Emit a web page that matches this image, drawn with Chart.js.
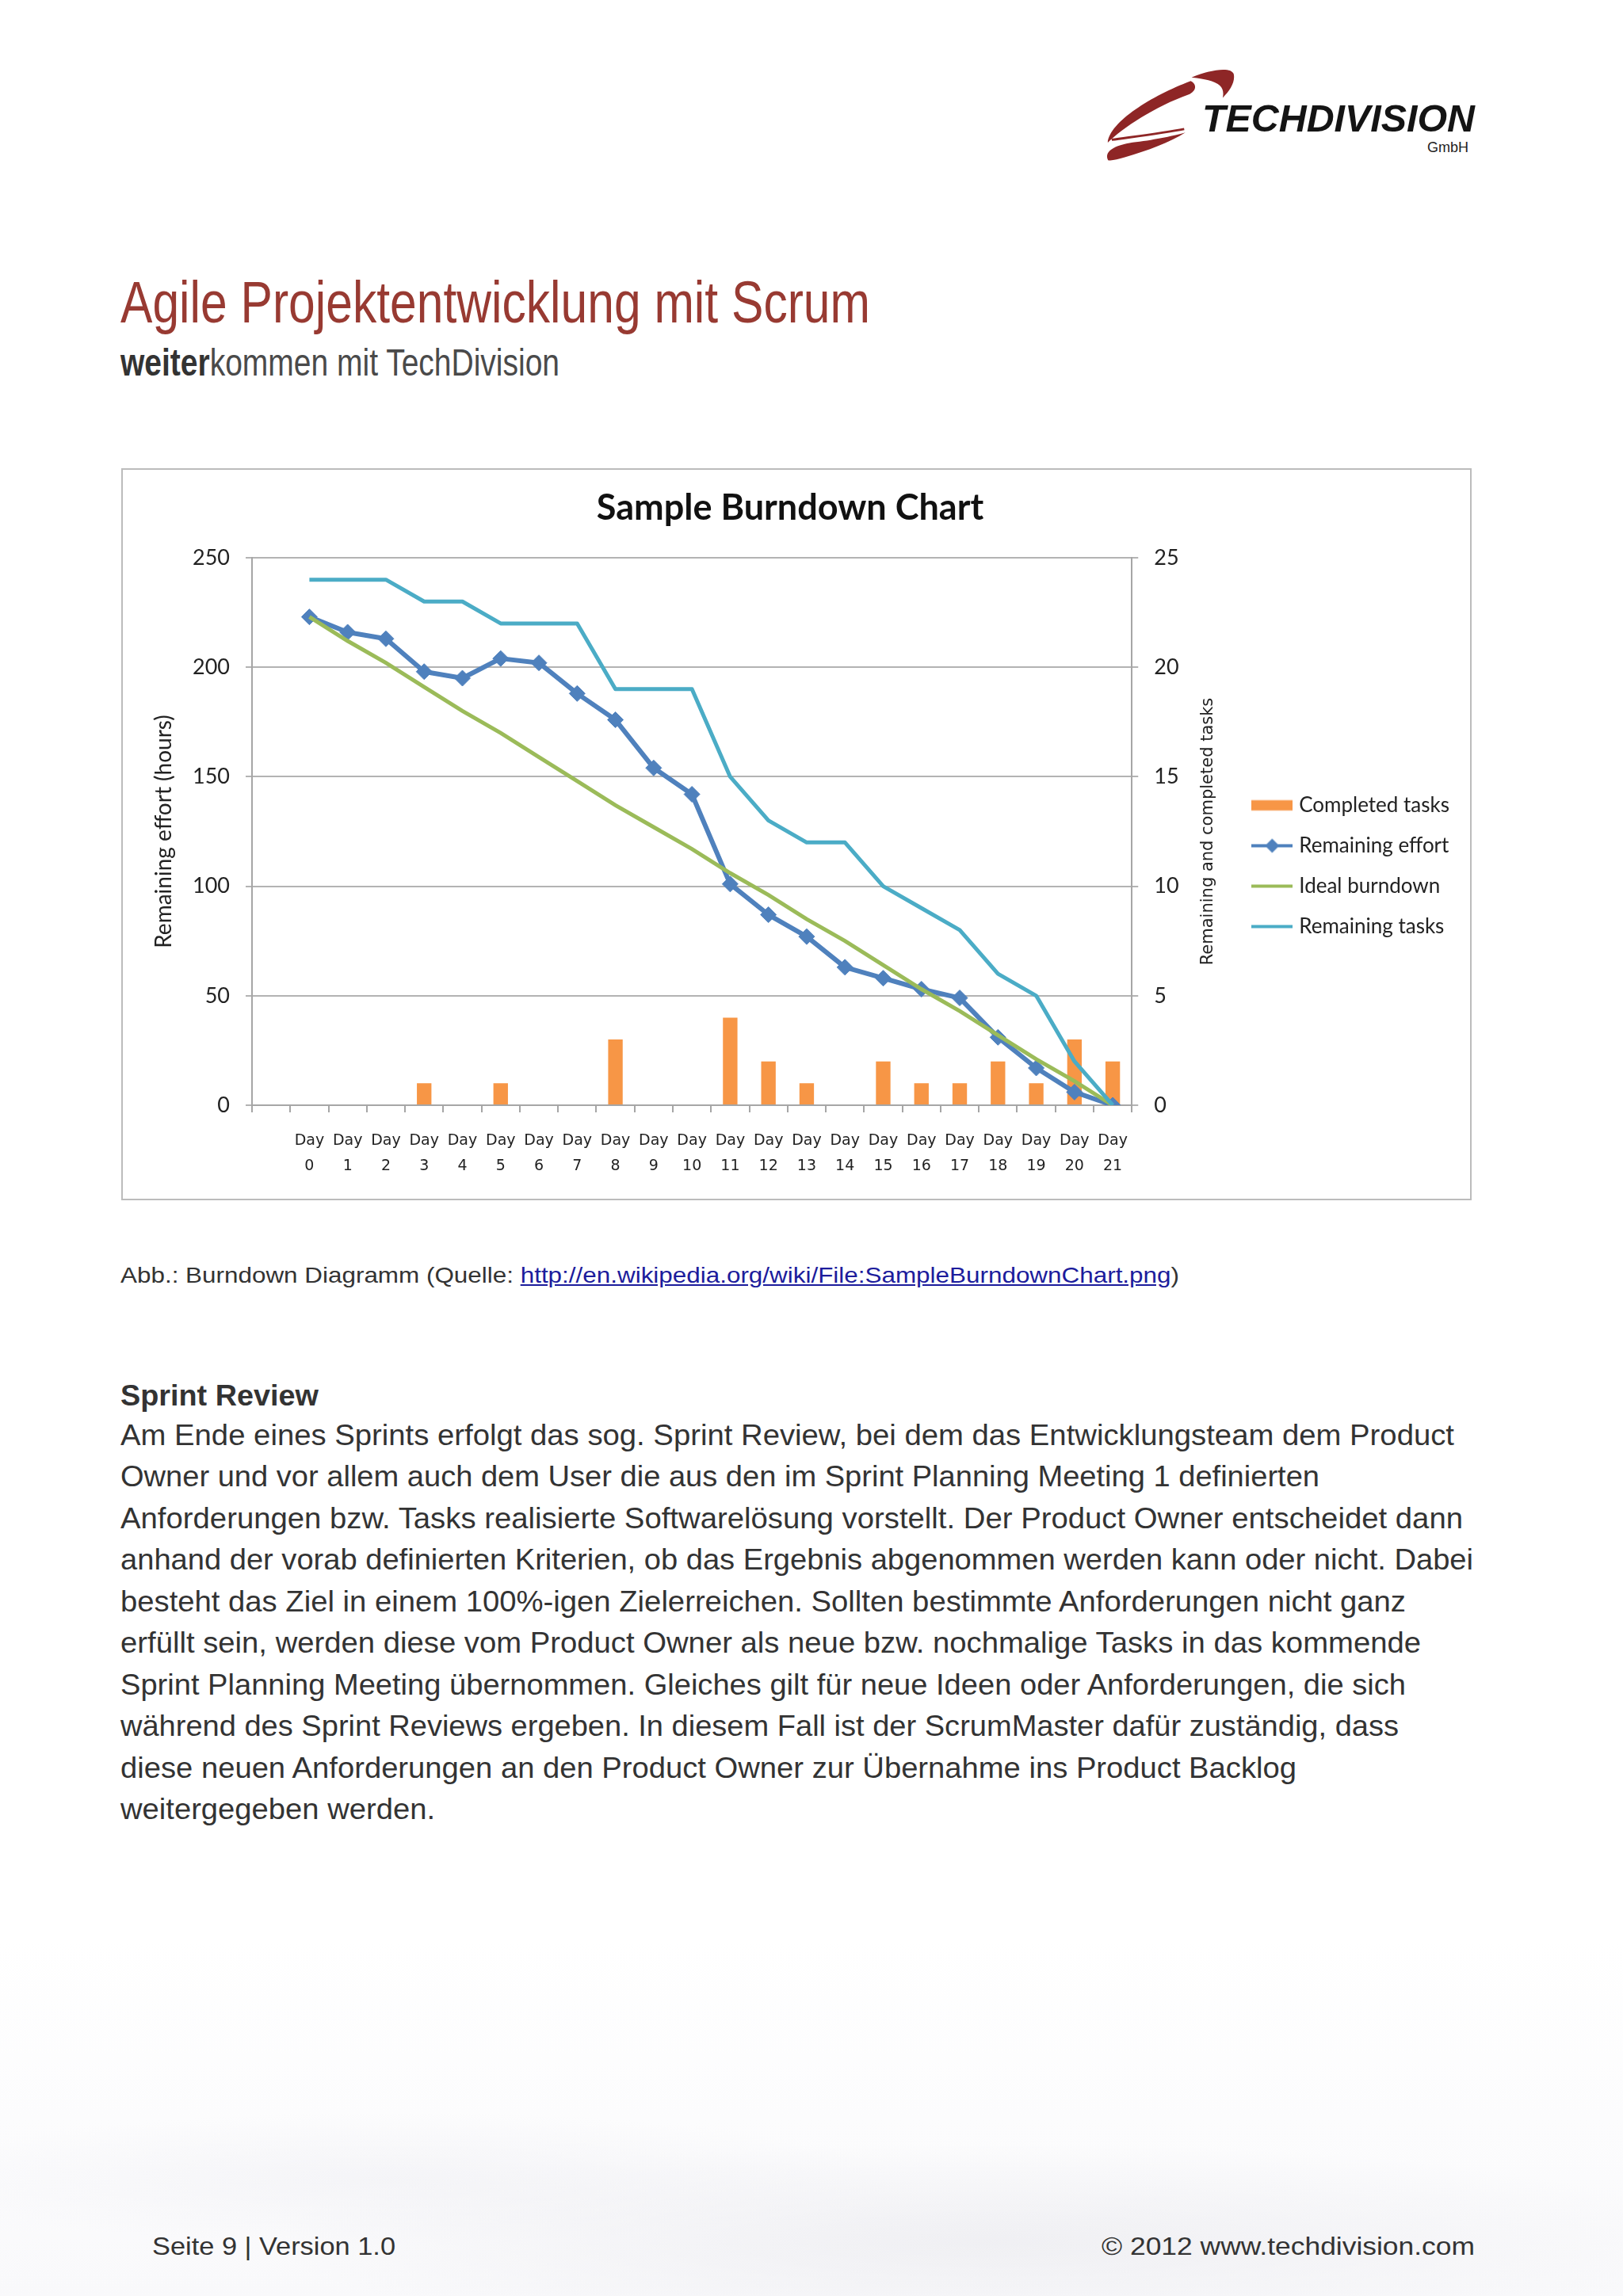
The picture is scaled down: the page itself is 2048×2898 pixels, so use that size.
<!DOCTYPE html>
<html>
<head>
<meta charset="utf-8">
<script src="https://cdn.jsdelivr.net/npm/chart.js@4.4.1/dist/chart.umd.min.js"></script>
<style>
html,body{margin:0;padding:0;}
body{width:2048px;height:2898px;position:relative;overflow:hidden;background:#fff;font-family:"Liberation Sans",Arial,sans-serif;}
.abs{position:absolute;white-space:nowrap;line-height:1;transform-origin:0 0;}
.narrow{font-family:"Liberation Sans Narrow","Liberation Sans",sans-serif;}
#deco{position:absolute;left:0;top:2450px;width:2048px;height:448px;
 background:
  radial-gradient(ellipse 1300px 180px at 1250px 380px, rgba(236,236,240,0.75), rgba(255,255,255,0) 70%),
  radial-gradient(ellipse 900px 120px at 500px 300px, rgba(240,240,244,0.6), rgba(255,255,255,0) 70%),
  linear-gradient(#fff, #f9f9fb);}
#chartbox{position:absolute;left:153px;top:591px;width:1704px;height:924px;box-sizing:border-box;border:2px solid #bcbcbc;background:#fff;}
#chart{position:absolute;left:155px;top:593px;}
a{color:#1c1c9c;text-decoration:underline;}
</style>
</head>
<body>
<div id="deco"></div>

<!-- Logo -->
<svg style="position:absolute;left:1340px;top:60px" width="560" height="150" viewBox="0 0 1568 420">
  <path d="M458,106 C520,78 600,66 607,94 C613,122 594,152 568,178 C576,140 560,116 458,106 Z" fill="#8e2626"/>
  <path d="M455,118 C318,170 168,262 162,336 C214,284 330,208 448,166 C478,152 476,128 455,118 Z" fill="#8e2626"/>
  <path d="M163,398 C146,362 198,342 262,334 C332,325 402,310 436,300 C384,334 302,364 222,388 C196,396 174,401 163,398 Z" fill="#8e2626"/>
  <path d="M176,326 C262,314 360,302 432,288" stroke="#8e2626" stroke-width="8" fill="none"/>
</svg>
<div class="abs fit" data-w="344" style="left:1517px;top:126px;font-size:48px;font-weight:bold;font-style:italic;color:#141414;">TECHDIVISION</div>
<div class="abs" style="left:1801px;top:177px;font-size:18px;color:#222;">GmbH</div>

<!-- Heading -->
<div class="abs narrow fit" data-w="946" style="left:152px;top:345px;font-size:74px;color:#983a32;">Agile Projektentwicklung mit Scrum</div>
<div class="abs narrow fit" data-w="554" style="left:152px;top:434px;font-size:48px;color:#4a4a4a;"><b style="color:#333">weiter</b>kommen mit TechDivision</div>

<!-- Chart -->
<div id="chartbox"></div>
<canvas id="chart" width="1700" height="920"></canvas>

<!-- Caption -->
<div class="abs fit" data-w="1336" style="left:152px;top:1596px;font-size:28px;color:#333;">Abb.: Burndown Diagramm (Quelle: <a>http://en.wikipedia.org/wiki/File:SampleBurndownChart.png</a>)</div>

<!-- Section -->
<div class="abs fit" data-w="250" style="left:152px;top:1744px;font-size:36px;font-weight:bold;color:#333;">Sprint Review</div>
<div id="para"></div>

<!-- Footer -->
<div class="abs narrow fit" data-w="307" style="left:192px;top:2819px;font-size:32px;color:#333;">Seite 9 | Version 1.0</div>
<div class="abs narrow fit" data-w="471" style="left:1390px;top:2819px;font-size:32px;color:#333;">© 2012 www.techdivision.com</div>

<script>
// ---------- DATA ----------
const dayLabels = ['Day 0','Day 1','Day 2','Day 3','Day 4','Day 5','Day 6','Day 7','Day 8','Day 9','Day 10',
  'Day 11','Day 12','Day 13','Day 14','Day 15','Day 16','Day 17','Day 18','Day 19','Day 20','Day 21'];
const completedTasks = [0,0,0,1,0,1,0,0,3,0,0,4,2,1,0,2,1,1,2,1,3,2];
const remainingEffort = [223,216,213,198,195,204,202,188,176,154,142,101,87,77,63,58,53,49,31,17,6,0];
const idealBurndown = [223,212,202,191,180,170,159,148,137,127,117,106,96,85,75,64,53,43,32,21,11,0];
const remainingTasks = [24,24,24,23,23,22,22,22,19,19,19,15,13,12,12,10,9,8,6,5,2,0];
const effortTicks = [0,50,100,150,200,250];
const taskTicks = [0,5,10,15,20,25];

// ---------- TEXT ----------
const paraLines = [
 'Am Ende eines Sprints erfolgt das sog. Sprint Review, bei dem das Entwicklungsteam dem Product',
 'Owner und vor allem auch dem User die aus den im Sprint Planning Meeting 1 definierten',
 'Anforderungen bzw. Tasks realisierte Softwarelösung vorstellt. Der Product Owner entscheidet dann',
 'anhand der vorab definierten Kriterien, ob das Ergebnis abgenommen werden kann oder nicht. Dabei',
 'besteht das Ziel in einem 100%-igen Zielerreichen. Sollten bestimmte Anforderungen nicht ganz',
 'erfüllt sein, werden diese vom Product Owner als neue bzw. nochmalige Tasks in das kommende',
 'Sprint Planning Meeting übernommen. Gleiches gilt für neue Ideen oder Anforderungen, die sich',
 'während des Sprint Reviews ergeben. In diesem Fall ist der ScrumMaster dafür zuständig, dass',
 'diese neuen Anforderungen an den Product Owner zur Übernahme ins Product Backlog',
 'weitergegeben werden.'
];
const paraRight = [1835,1665,1846,1859,1774,1793,1774,1765,1636,549];

const para = document.getElementById('para');
paraLines.forEach((t, i) => {
  const d = document.createElement('div');
  d.className = 'abs fit';
  d.dataset.w = paraRight[i] - 152;
  d.style.cssText = 'left:152px;font-size:36px;color:#333;top:' + (1824 + i * 52.5 - 30.5) + 'px';
  d.textContent = t;
  para.appendChild(d);
});
document.querySelectorAll('.fit').forEach(el => {
  const w = el.getBoundingClientRect().width;
  const target = +el.dataset.w;
  if (w > 0) el.style.transform = 'scaleX(' + (target / w) + ')';
});

// ---------- CHART ----------
const pad = arr => [null].concat(arr);

const COL_BAR = '#f79646', COL_EFFORT = '#4f81bd', COL_IDEAL = '#9bbb59', COL_TASKS = '#4bacc6';
function makeIcon(kind, color) {
  const c = document.createElement('canvas');
  c.width = 52; c.height = 20;
  const g = c.getContext('2d');
  g.fillStyle = color;
  if (kind === 'bar') {
    g.fillRect(0, 3.5, 52, 13);
  } else {
    g.fillRect(0, 8, 52, 4);
    if (kind === 'diamond') {
      g.beginPath();
      g.moveTo(26, 1); g.lineTo(35, 10); g.lineTo(26, 19); g.lineTo(17, 10); g.closePath();
      g.fill();
    }
  }
  return c;
}
const legendIcons = [makeIcon('bar', COL_BAR), makeIcon('diamond', COL_EFFORT), makeIcon('line', COL_IDEAL), makeIcon('line', COL_TASKS)];

const rightTitle = {
  id: 'rightTitle',
  afterDraw(chart) {
    const s = chart.scales.y1, a = chart.chartArea, ctx = chart.ctx;
    ctx.save();
    ctx.translate(s.left + 96, (a.top + a.bottom) / 2);
    ctx.rotate(-Math.PI / 2);
    ctx.font = '21px "DejaVu Sans"';
    ctx.fillStyle = '#222';
    ctx.textAlign = 'center';
    ctx.textBaseline = 'middle';
    ctx.fillText('Remaining and completed tasks', 0, 0);
    ctx.restore();
  }
};

const GRID = '#b3b3b3', AXIS = '#a6a6a6';

new Chart(document.getElementById('chart'), {
  type: 'bar',
  data: {
    labels: [''].concat(dayLabels),
    datasets: [
      { type: 'bar', label: 'Completed tasks', data: pad(completedTasks), yAxisID: 'y1',
        backgroundColor: COL_BAR, barPercentage: 0.38, categoryPercentage: 1, order: 4 },
      { type: 'line', label: 'Remaining effort', data: pad(remainingEffort), yAxisID: 'y',
        borderColor: COL_EFFORT, backgroundColor: COL_EFFORT, borderWidth: 6, tension: 0,
        borderJoinStyle: 'round', pointStyle: 'rectRot', pointRadius: 10, pointBorderWidth: 1,
        pointBackgroundColor: COL_EFFORT, pointBorderColor: COL_EFFORT, order: 3 },
      { type: 'line', label: 'Ideal burndown', data: pad(idealBurndown), yAxisID: 'y',
        borderColor: COL_IDEAL, backgroundColor: COL_IDEAL, borderWidth: 5, tension: 0,
        pointRadius: 0, order: 2 },
      { type: 'line', label: 'Remaining tasks', data: pad(remainingTasks), yAxisID: 'y1',
        borderColor: COL_TASKS, backgroundColor: COL_TASKS, borderWidth: 5, tension: 0,
        borderJoinStyle: 'round', pointRadius: 0, order: 1 }
    ]
  },
  options: {
    responsive: false,
    animation: false,
    devicePixelRatio: 1,
    layout: { padding: { left: 0, right: 16, top: 0, bottom: 0 } },
    plugins: {
      title: {
        display: true, text: 'Sample Burndown Chart', color: '#111',
        font: { family: 'Lato', size: 45, weight: 'bold', lineHeight: 1.2 },
        padding: { top: 21, bottom: 36 }
      },
      legend: {
        position: 'right', align: 'center',
        title: { display: true, text: '', font: { size: 80, lineHeight: 1 }, padding: 0 },
        labels: {
          usePointStyle: true, pointStyleWidth: 42, padding: 25, color: '#222',
          font: { family: 'Lato', size: 26 },
          sort: (a, b) => a.datasetIndex - b.datasetIndex,
          generateLabels(chart) {
            const items = Chart.defaults.plugins.legend.labels.generateLabels(chart);
            items.forEach(it => { it.pointStyle = legendIcons[it.datasetIndex]; });
            return items;
          }
        }
      },
      tooltip: { enabled: false }
    },
    scales: {
      x: {
        offset: true,
        grid: { offset: true, drawOnChartArea: false, drawTicks: true, tickLength: 9, color: AXIS, lineWidth: 2 },
        border: { display: true, color: AXIS, width: 2 },
        ticks: {
          autoSkip: false, maxRotation: 0, minRotation: 0, padding: 20, color: '#222',
          font: { family: 'DejaVu Sans', size: 19, lineHeight: 32 / 19 },
          callback: function (v) { const l = this.getLabelForValue(v); return l ? l.split(' ') : ''; }
        },
        afterFit: s => { s.height = 118; }
      },
      y: {
        position: 'left',
        min: effortTicks[0], max: effortTicks[effortTicks.length - 1],
        grid: { color: GRID, lineWidth: 2, tickLength: 8 },
        border: { display: true, color: AXIS, width: 2 },
        ticks: { stepSize: effortTicks[1] - effortTicks[0], padding: 20, color: '#222',
          font: { family: 'Lato', size: 27 } },
        title: { display: true, text: 'Remaining effort (hours)', color: '#222',
          font: { family: 'Lato', size: 28, lineHeight: 1.2 }, padding: { top: 35, bottom: 0 } },
        afterFit: s => { s.width = 163; }
      },
      y1: {
        position: 'right',
        min: taskTicks[0], max: taskTicks[taskTicks.length - 1],
        grid: { drawOnChartArea: false, color: GRID, lineWidth: 2, tickLength: 8 },
        border: { display: true, color: AXIS, width: 2 },
        ticks: { stepSize: taskTicks[1] - taskTicks[0], padding: 20, color: '#222',
          font: { family: 'Lato', size: 27 } },
        afterFit: s => { s.width = 131; }
      }
    }
  },
  plugins: [rightTitle]
});
</script>
</body>
</html>
